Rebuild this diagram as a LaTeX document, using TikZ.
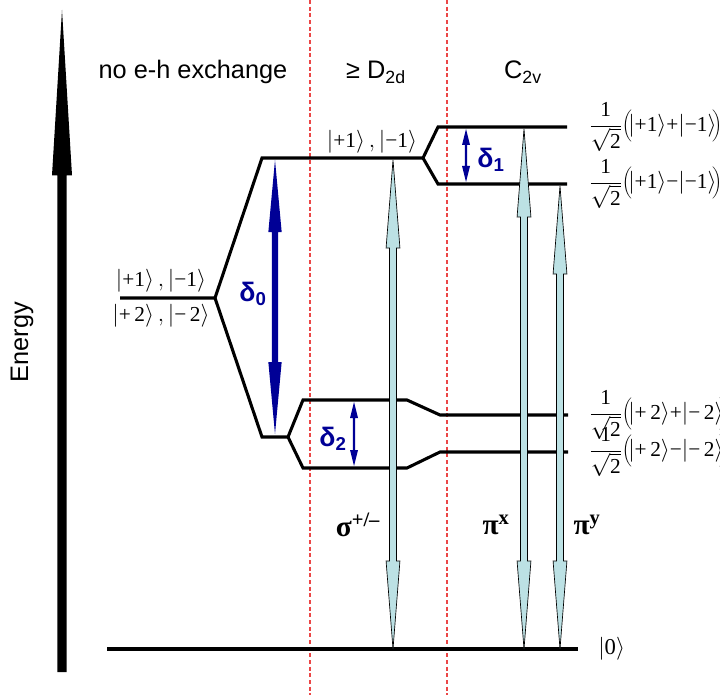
\documentclass[tikz,border=0pt]{standalone}
\usepackage{fontspec}
\setmainfont{Liberation Serif}
\setsansfont{Liberation Sans}
\newfontfamily\lsans{Liberation Sans}
\newfontfamily\lserif{Liberation Serif}
\usetikzlibrary{calc}
\definecolor{navyb}{RGB}{0,0,150}
\definecolor{lblue}{RGB}{188,225,228}
\definecolor{dred}{RGB}{235,70,70}
\newcommand{\dblarr}[6]{%
\path[#1] let \p1=(#5), \p2=(#6) in
 (\x1,\y1) -- (\x1+#3,\y1-#4) -- (\x1+#2,\y1-#4) -- (\x1+#2,\y2+#4) -- (\x1+#3,\y2+#4) -- (\x1,\y2)
 -- (\x1-#3,\y2+#4) -- (\x1-#2,\y2+#4) -- (\x1-#2,\y1-#4) -- (\x1-#3,\y1-#4) -- cycle;}
\newcommand{\sglarr}[6]{%
\path[#1] let \p1=(#5), \p2=(#6) in
 (\x1,\y1) -- (\x1+#3,\y1-#4) -- (\x1+#2,\y1-#4) -- (\x1+#2,\y2) -- (\x1-#2,\y2) -- (\x1-#2,\y1-#4) -- (\x1-#3,\y1-#4) -- cycle;}
\newcommand{\kt}[1]{\bigl|\mbox{\lserif #1}\bigr\rangle}
\newcommand{\fr}{$\displaystyle\frac{\mbox{\lserif 1}}{\sqrt{\mbox{\lserif 2}}}$}
\begin{document}
\begin{tikzpicture}[x=0.75pt,y=-0.75pt,
  level/.style={line width=2.3pt, line join=miter},
  sep/.style={dred, line width=0.8pt, dash pattern=on 3pt off 2pt},
  head/.style={font=\lsans\fontsize{19}{22}\selectfont},
  ket/.style={font=\fontsize{16}{18}\selectfont, inner sep=0pt},
  dlab/.style={font=\lsans\bfseries\fontsize{20}{22}\selectfont, text=navyb},
  plab/.style={font=\lserif\bfseries\fontsize{22}{24}\selectfont},
  trans/.style={fill=lblue, draw=black, line width=0.5pt},
  dfill/.style={fill=navyb}]
\useasboundingbox (0,0) rectangle (720,695);
% separators
\draw[sep] (310,0) -- (310,695);
\draw[sep] (447,0) -- (447,695);
% coordinates of levels
\coordinate (L0a) at (107,649); \coordinate (L0b) at (578,649);
\coordinate (La) at (120,298); \coordinate (Lb) at (215,298);
\coordinate (U1) at (262,158); \coordinate (U2) at (423,158);
\coordinate (T1) at (438,127); \coordinate (T2) at (567,127);
\coordinate (B1) at (438,184); \coordinate (B2) at (567,184);
\coordinate (D1) at (262,437); \coordinate (D2) at (288,437);
\coordinate (M1) at (303,400); \coordinate (M2) at (407,400); \coordinate (M3) at (440,415); \coordinate (M4) at (568,415);
\coordinate (N1) at (303,468); \coordinate (N2) at (407,468); \coordinate (N3) at (440,452); \coordinate (N4) at (568,452);
% levels
\draw[level] (La) -- (Lb) -- (U1) -- (U2) -- (T1) -- (T2);
\draw[level] (U2) -- (B1) -- (B2);
\draw[level] (Lb) -- (D1) -- (D2) -- (M1) -- (M2) -- (M3) -- (M4);
\draw[level] (D2) -- (N1) -- (N2) -- (N3) -- (N4);
\draw[level] (L0a) -- (L0b);
% energy arrow
\coordinate (Etop) at (62,10); \coordinate (Ebot) at (62,672);
\sglarr{fill=black}{3.4pt}{7.5pt}{124pt}{Etop}{Ebot}
\node[head, rotate=90] (energy) at (22,342) {Energy};
% headers
\node[head] (h1) at (193,72) {no e-h exchange};
\node[head] (h2) at (376,72) {≥ D\textsubscript{2d}};
\node[head] (h3) at (523,72) {C\textsubscript{2v}};
% delta arrows
\coordinate (d0t) at (275,160); \coordinate (d0b) at (275,434);
\dblarr{dfill}{2.3pt}{5pt}{54pt}{d0t}{d0b}
\coordinate (d1t) at (466,129); \coordinate (d1b) at (466,182);
\dblarr{dfill}{0.8pt}{3pt}{12pt}{d1t}{d1b}
\coordinate (d2t) at (354,402); \coordinate (d2b) at (354,466);
\dblarr{dfill}{0.8pt}{3pt}{12pt}{d2t}{d2b}
\node[dlab] (dl0) at (253,294) {δ\textsubscript{0}};
\node[dlab] (dl1) at (491,160) {δ\textsubscript{1}};
\node[dlab] (dl2) at (333,439) {δ\textsubscript{2}};
% transitions
\coordinate (st) at (393,160); \coordinate (sb) at (393,649);
\coordinate (xt) at (524,129); \coordinate (xb) at (524,649);
\coordinate (yt) at (560,186); \coordinate (yb) at (560,649);
\dblarr{trans}{2.6pt}{5.2pt}{66pt}{st}{sb}
\dblarr{trans}{2.6pt}{5.2pt}{66pt}{xt}{xb}
\dblarr{trans}{2.6pt}{5.2pt}{66pt}{yt}{yb}
\node[plab] (sig) at (358,525) {σ\textsuperscript{+/–}};
\node[plab] (pix) at (496,525) {π\textsuperscript{x}};
\node[plab] (piy) at (587,525) {π\textsuperscript{y}};
% ket labels
\node[ket] (k1) at (161,281) {$\kt{+1}\,,\kt{−1}$};
\node[ket] (k2) at (161,316) {$\kt{+\,2}\,,\kt{−\,2}$};
\node[ket] (k3) at (372,142) {$\kt{+1}\,,\kt{−1}$};
\node[ket, anchor=west] (r1) at (589,127) {\fr$\biggl(\!\kt{+1}\mbox{\lserif +}\kt{−1}\!\biggr)$};
\node[ket, anchor=west] (r2) at (589,184) {\fr$\biggl(\!\kt{+1}\mbox{\lserif −}\kt{−1}\!\biggr)$};
\node[ket, anchor=west] (r3) at (589,415) {\fr$\biggl(\!\kt{+\,2}\mbox{\lserif +}\kt{−\,2}\!\biggr)$};
\node[ket, anchor=west] (r4) at (589,452) {\fr$\biggl(\!\kt{+\,2}\mbox{\lserif −}\kt{−\,2}\!\biggr)$};
\node[ket, font=\fontsize{17}{19}\selectfont, anchor=west] (k0) at (598,649) {$\kt{0}$};
\end{tikzpicture}
\end{document}
